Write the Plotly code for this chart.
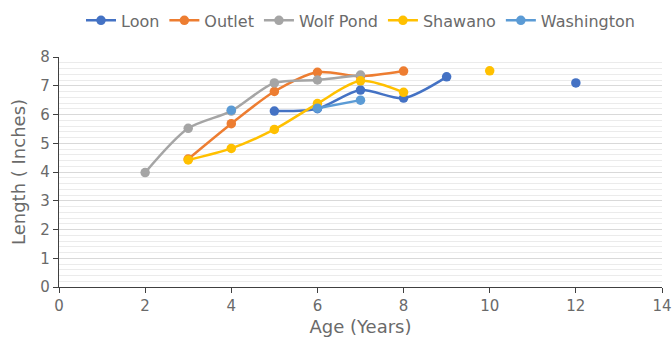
import plotly.graph_objects as go

ages = [2, 3, 4, 5, 6, 7, 8, 9, 10, 11, 12]
loon = [None, None, None, 6.12, 6.2, 6.85, 6.57, 7.31, None, None, 7.1]
outlet = [None, 4.45, 5.68, 6.8, 7.47, 7.33, 7.51, None, None, None, None]
wolf_pond = [3.98, 5.52, 6.12, 7.1, 7.2, 7.37, None, None, None, None, None]
shawano = [None, 4.42, 4.82, 5.48, 6.38, 7.17, 6.77, None, 7.52, None, None]
washington = [None, None, 6.15, None, 6.22, 6.5, None, None, None, None, None]

series = [
    ("Loon", loon, "#4472C4"),
    ("Outlet", outlet, "#ED7D31"),
    ("Wolf Pond", wolf_pond, "#A5A5A5"),
    ("Shawano", shawano, "#FFC000"),
    ("Washington", washington, "#5B9BD5"),
]

x_ticks = [0, 2, 4, 6, 8, 10, 12, 14]
y_ticks = [0, 1, 2, 3, 4, 5, 6, 7, 8]

fig = go.Figure()
for name, vals, color in series:
    fig.add_trace(go.Scatter(
        x=ages, y=vals, name=name, mode="lines+markers",
        line=dict(color=color, width=2.5, shape="spline", smoothing=0.8),
        marker=dict(color=color, size=9.5),
        connectgaps=False,
    ))

txt = "#6a6a6a"
fam = "DejaVu Sans, Liberation Sans, sans-serif"
fig.update_layout(
    width=672, height=347,
    margin=dict(l=59, r=10, t=57, b=60),
    paper_bgcolor="white", plot_bgcolor="white",
    font=dict(family=fam, color=txt, size=15),
    showlegend=True,
    legend=dict(orientation="h", x=0.5, xanchor="center", y=0.99, yanchor="top",
                yref="container", font=dict(size=16, color=txt), itemwidth=30,
                bgcolor="rgba(0,0,0,0)"),
    xaxis=dict(
        range=[0, 14], tickvals=x_ticks, ticktext=[str(v) for v in x_ticks],
        showgrid=False, zeroline=False, automargin=False,
        showline=True, linecolor="#404040", linewidth=1.3,
        ticks="outside", ticklen=5, tickcolor="#404040",
        tickfont=dict(size=15, color=txt),
        title=dict(text="Age (Years)", font=dict(size=18, color=txt), standoff=6),
    ),
    yaxis=dict(
        range=[0, 8], tickvals=y_ticks, ticktext=[str(v) for v in y_ticks],
        showgrid=True, gridcolor="#d9d9d9", gridwidth=1, zeroline=False, automargin=False,
        showline=True, linecolor="#404040", linewidth=1.3,
        ticks="outside", ticklen=5, tickcolor="#404040",
        tickfont=dict(size=15, color=txt),
        minor=dict(dtick=0.2, showgrid=True, gridcolor="#ebebeb", gridwidth=1),
        title=dict(text="Length ( Inches)", font=dict(size=18, color=txt), standoff=10),
    ),
)

fig.write_html("out.html")
